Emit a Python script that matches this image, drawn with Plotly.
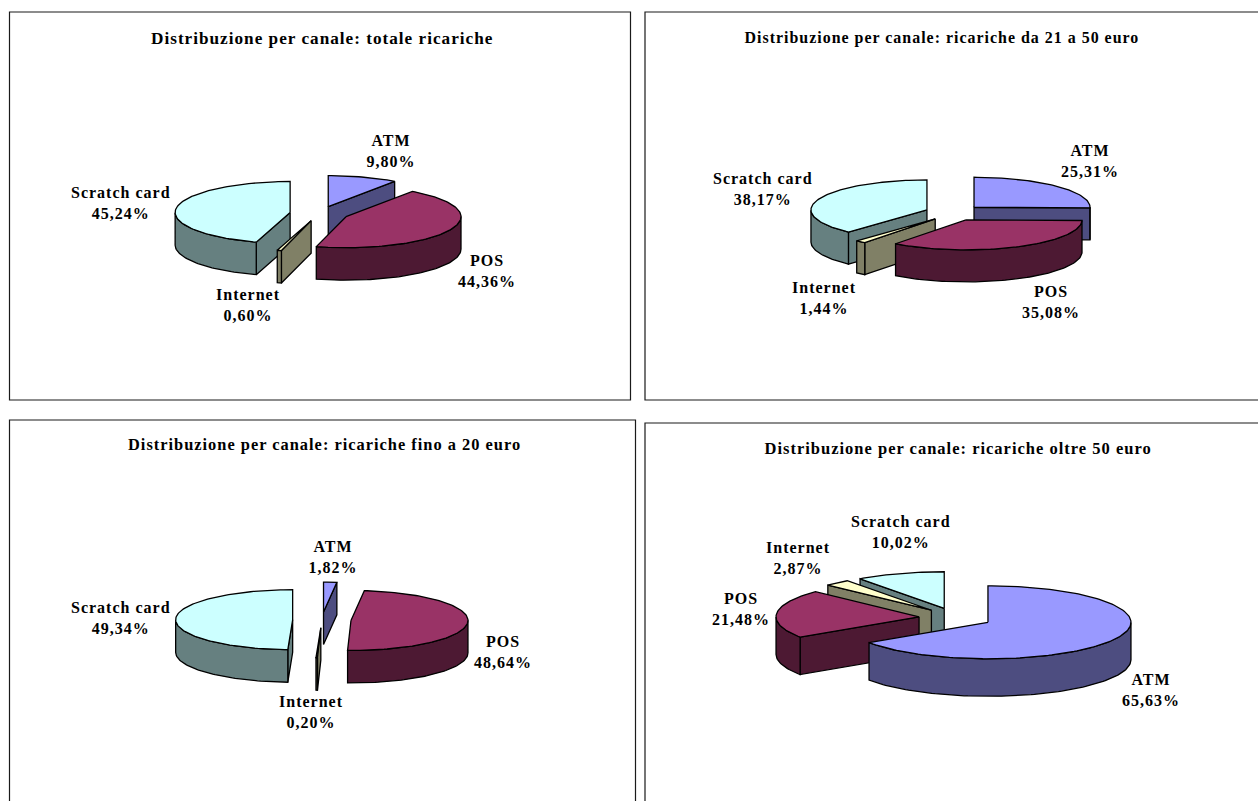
import math
import plotly.graph_objects as go

# Channel shares (%) for each recharge band, clockwise from twelve o'clock
channels = ["ATM", "POS", "Internet", "Scratch card"]
totale = [9.80, 44.36, 0.60, 45.24]
da_21_a_50 = [25.31, 35.08, 1.44, 38.17]
fino_a_20 = [1.82, 48.64, 0.20, 49.34]
oltre_50 = [65.63, 21.48, 2.87, 10.02]

top_colors = ["#9999FF", "#993366", "#FFFFCC", "#CCFFFF"]
side_colors = ["#4D4D80", "#4D1933", "#808066", "#668080"]

# Pie placement in pixel-sized axis units
panels = [
    dict(values=totale, title="Distribuzione per canale: totale ricariche", title_xy=(322.5, 38), title_size=17.2,
         frame=(9.5, 12, 630.5, 400), cx=319.3, cy=213.6, rx=115, ry=31, ex=29.5, ey=7.3, depth=32.5,
         labels=[(390.5, 151), (486.5, 270.5), (248, 305), (120.5, 203)]),
    dict(values=da_21_a_50, title="Distribuzione per canale: ricariche da 21 a 50 euro", title_xy=(942, 38), title_size=15.95,
         frame=(645, 12, 1270, 400), cx=953.6, cy=212.8, rx=116, ry=30, ex=28.6, ey=7.9, depth=32,
         labels=[(1090, 160.5), (1050.7, 302), (824.5, 298), (763, 189)]),
    dict(values=fino_a_20, title="Distribuzione per canale: ricariche fino a 20 euro", title_xy=(324, 444), title_size=16.4,
         frame=(9.5, 420, 635.5, 815), cx=321.85, cy=619.9, rx=117, ry=30, ex=29.2, ey=7.85, depth=32.5,
         labels=[(332.7, 556.5), (503, 652), (311, 712), (120.5, 618)]),
    dict(values=oltre_50, title="Distribuzione per canale: ricariche oltre 50 euro", title_xy=(958, 448), title_size=16.5,
         frame=(645, 423, 1270, 815), cx=955.6, cy=617.65, rx=143, ry=36.5, ex=36.7, ey=9.85, depth=37.5,
         labels=[(1151, 690), (741, 609), (798.5, 558), (901, 531.5)]),
]

LABEL_FONT = dict(family="Liberation Serif", size=16, color="#000000", weight="bold")


def slice_outline(p, start, end):
    """Apex and outer-arc points of a slice's top face, exploded along its bisector."""
    mid = math.radians((start + end) / 2)
    ax = p["cx"] + p["ex"] * math.sin(mid)
    ay = p["cy"] - p["ey"] * math.cos(mid)
    steps = max(2, int((end - start) / 1.5))
    arc = []
    for i in range(steps + 1):
        a = math.radians(start + (end - start) * i / steps)
        arc.append((ax + p["rx"] * math.sin(a), ay - p["ry"] * math.cos(a)))
    return (ax, ay), arc


def polygon(points, fill):
    xs = [q[0] for q in points] + [points[0][0]]
    ys = [q[1] for q in points] + [points[0][1]]
    return go.Scatter(x=xs, y=ys, mode="lines", fill="toself", fillcolor=fill,
                      line=dict(color="#000000", width=1.3), hoverinfo="skip", showlegend=False)


def extrude(run, depth, fill):
    return polygon(run + [(x, y + depth) for x, y in reversed(run)], fill)


def wedge_traces(p, start, end, top, side):
    apex, arc = slice_outline(p, start, end)
    traces = []
    depth = p["depth"]
    # Only faces whose top edge runs leftwards point towards the viewer
    if arc[0][0] < apex[0]:
        traces.append(extrude([apex, arc[0]], depth, side))
    if arc[-1][0] > apex[0]:
        traces.append(extrude([arc[-1], apex], depth, side))
    run = []
    for a, b in zip(arc, arc[1:]):
        if b[0] < a[0]:
            run = run or [a]
            run.append(b)
        elif run:
            traces.append(extrude(run, depth, side))
            run = []
    if run:
        traces.append(extrude(run, depth, side))
    traces.append(polygon([apex] + arc, top))
    return apex[1], traces


fig = go.Figure()
annotations = []
shapes = []

for p in panels:
    x0, y0, x1, y1 = p["frame"]
    shapes.append(dict(type="rect", xref="x", yref="y", x0=x0, y0=y0, x1=x1, y1=y1,
                       line=dict(color="#1a1a1a", width=1.2), fillcolor="#FFFFFF", layer="below"))
    wedges = []
    angle = 0.0
    for i, v in enumerate(p["values"]):
        sweep = v * 3.6
        depth_key, traces = wedge_traces(p, angle, angle + sweep, top_colors[i], side_colors[i])
        wedges.append((depth_key, i != 2, traces))
        angle += sweep
    # Back-to-front painting: slices nearer the top of the frame go first
    for _, _, traces in sorted(wedges, key=lambda w: (round(w[0]), w[1])):
        fig.add_traces(traces)
    annotations.append(dict(x=p["title_xy"][0], y=p["title_xy"][1], text=p["title"], showarrow=False,
                            xref="x", yref="y",
                            font=dict(LABEL_FONT, size=p["title_size"])))
    for name, v, (lx, ly) in zip(channels, p["values"], p["labels"]):
        annotations.append(dict(x=lx, y=ly, text=f"{name}<br>{v:.2f}%".replace(".", ","),
                                showarrow=False, xref="x", yref="y", font=LABEL_FONT))

fig.update_layout(
    width=1258, height=801, margin=dict(l=0, r=0, t=0, b=0),
    paper_bgcolor="#FFFFFF", plot_bgcolor="#FFFFFF", showlegend=False,
    xaxis=dict(range=[0, 1258], visible=False, fixedrange=True),
    yaxis=dict(range=[801, 0], visible=False, fixedrange=True),
    shapes=shapes, annotations=annotations,
)

# Spaced-out bold lettering for all chart text
spacing = "var s=document.createElement('style');s.textContent='.annotation-text{letter-spacing:1px}';document.head.appendChild(s);"
fig.write_html("out.html", post_script=spacing)
